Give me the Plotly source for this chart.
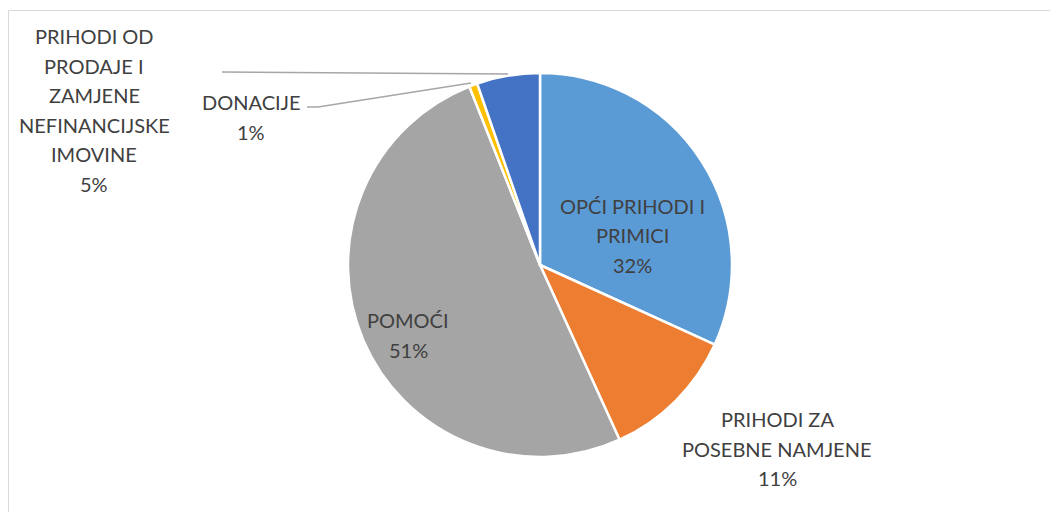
import plotly.graph_objects as go

# The page body adds an 8px margin, so the figure is drawn 8px in from the window corner.
OFF = 8
W, H = 1050, 504

# Data
categories = ["OPĆI PRIHODI I PRIMICI", "PRIHODI ZA POSEBNE NAMJENE", "POMOĆI",
              "DONACIJE", "PRIHODI OD PRODAJE I ZAMJENE NEFINANCIJSKE IMOVINE"]
values = [31.8, 11.4, 50.8, 0.7, 5.3]
colors = ["#5B9BD5", "#ED7D31", "#A5A5A5", "#FFC000", "#4472C4"]
# label text lines (as wrapped in the reference)
label_lines = [
    ["OPĆI PRIHODI I", "PRIMICI"],
    ["PRIHODI ZA", "POSEBNE NAMJENE"],
    ["POMOĆI"],
    ["DONACIJE"],
    ["PRIHODI OD", "PRODAJE I", "ZAMJENE", "NEFINANCIJSKE", "IMOVINE"],
]


def px(x, y):
    """window pixel -> paper coordinate"""
    return (x - OFF) / W, 1 - (y - OFF) / H


total = sum(values)
pcts = [f"{round(v / total * 100):.0f}%" for v in values]

fig = go.Figure()
x0, y0 = px(348, 457)
x1, y1 = px(732, 73)
fig.add_trace(go.Pie(
    labels=categories, values=values, sort=False, direction="clockwise",
    rotation=0, textinfo="none", hoverinfo="label+percent",
    marker=dict(colors=colors, line=dict(color="white", width=2.5)),
    domain=dict(x=[x0, x1], y=[y0, y1]), showlegend=False,
))

# label layout: (center x, first-line y) in window pixels, line spacing
label_pos = [(632, 206), (777, 419), (408, 320), (251, 102), (94, 36)]
spacing = 29.5
font = dict(family="Lato, 'Open Sans', sans-serif", size=20, color="#404040")
annotations = []
for lines, pct, (cx, cy) in zip(label_lines, pcts, label_pos):
    for i, t in enumerate(lines + [pct]):
        ax, ay = px(cx, cy + i * spacing)
        annotations.append(dict(x=ax, y=ay, xref="paper", yref="paper", text=t,
                                showarrow=False, font=font, xanchor="center",
                                yanchor="middle"))

shapes = []
# chart border
bx0, by0 = px(8.5, 10.5)
bx1, by1 = px(1090, 560)
shapes.append(dict(type="rect", xref="paper", yref="paper", x0=bx0, y0=by1, x1=bx1, y1=by0,
                   line=dict(color="#D9D9D9", width=1), fillcolor="rgba(0,0,0,0)"))


def path(points):
    s = ""
    for i, (x, y) in enumerate(points):
        a, b = px(x, y)
        s += ("M" if i == 0 else "L") + f"{a},{b} "
    return s


leader = dict(color="#A6A6A6", width=1.5)
shapes.append(dict(type="path", xref="paper", yref="paper",
                   path=path([(222, 72), (508, 74)]), line=leader))
shapes.append(dict(type="path", xref="paper", yref="paper",
                   path=path([(307, 107), (318, 107), (471, 83)]), line=leader))

fig.update_layout(width=W, height=H, margin=dict(l=0, r=0, t=0, b=0),
                  paper_bgcolor="white", plot_bgcolor="white",
                  annotations=annotations, shapes=shapes)
fig.write_html("out.html")
